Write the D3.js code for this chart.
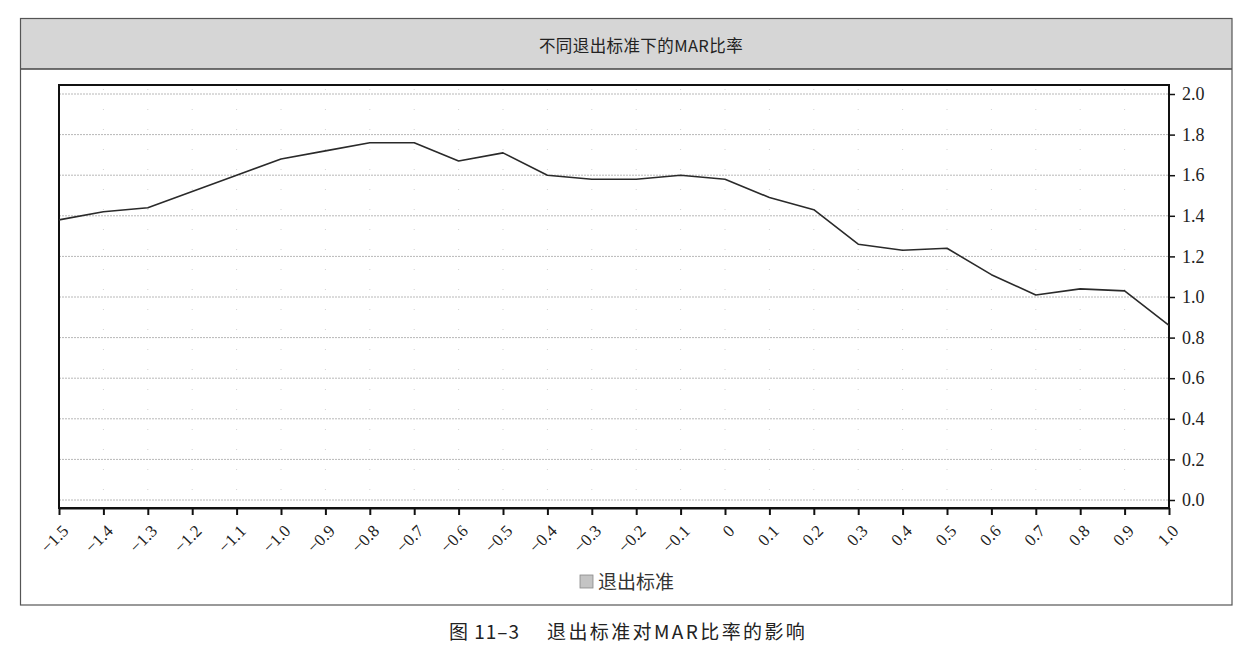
<!DOCTYPE html>
<html>
<head>
<meta charset="utf-8">
<script src="https://cdn.jsdelivr.net/npm/d3@7"></script>
<style>
  html, body { margin: 0; padding: 0; background: #fff; }
  svg { display: block; }
</style>
</head>
<body>
<svg id="chart" width="1253" height="664"></svg>
<script>
// ── Data ─────────────────────────────────────────────────────────────────────

const exitLevels = [-1.5, -1.4, -1.3, -1.2, -1.1, -1.0, -0.9, -0.8, -0.7, -0.6, -0.5, -0.4, -0.3,
  -0.2, -0.1, 0, 0.1, 0.2, 0.3, 0.4, 0.5, 0.6, 0.7, 0.8, 0.9, 1.0];
const marRatio = [1.38, 1.42, 1.44, 1.52, 1.60, 1.68, 1.72, 1.76, 1.76, 1.67, 1.71, 1.60, 1.58,
  1.58, 1.60, 1.58, 1.49, 1.43, 1.26, 1.23, 1.24, 1.11, 1.01, 1.04, 1.03, 0.86];
const yTicks = [0, 0.2, 0.4, 0.6, 0.8, 1.0, 1.2, 1.4, 1.6, 1.8, 2.0];

const titleText = "不同退出标准下的MAR比率";
const legendText = "退出标准";
const captionNumber = "图 11–3";
const captionText = "退出标准对MAR比率的影响";

// ── Layout ───────────────────────────────────────────────────────────────────

const frame = { left: 20.5, top: 18.5, right: 1232, bottom: 605, band: 69 };
const plot = { left: 59, right: 1169, top: 85, bottom: 508 };
const cjkSans = "'Noto Sans CJK SC', 'Noto Sans', sans-serif";
const serif = "'Liberation Serif', 'DejaVu Serif', serif";

const svg = d3.select("#chart");

const x = d3.scaleLinear().domain([-1.5, 1.0]).range([plot.left, plot.right]);
const y = d3.scaleLinear().domain([0, 2.0]).range([500, 94]);

// outer frame + title band
svg.append("rect")
  .attr("x", frame.left).attr("y", frame.top)
  .attr("width", frame.right - frame.left).attr("height", frame.band - frame.top)
  .attr("fill", "#d6d6d6");
svg.append("line")
  .attr("x1", frame.left).attr("x2", frame.right)
  .attr("y1", frame.band).attr("y2", frame.band)
  .attr("stroke", "#444").attr("stroke-width", 1.3);
svg.append("rect")
  .attr("x", frame.left).attr("y", frame.top)
  .attr("width", frame.right - frame.left).attr("height", frame.bottom - frame.top)
  .attr("fill", "none").attr("stroke", "#555").attr("stroke-width", 1.2);

svg.append("text")
  .attr("x", 641).attr("y", 52)
  .attr("text-anchor", "middle")
  .attr("font-family", cjkSans)
  .attr("font-size", 16.5)
  .attr("letter-spacing", 0.4)
  .attr("fill", "#222")
  .text(titleText);

// ── Grid ─────────────────────────────────────────────────────────────────────

svg.append("g")
  .selectAll("line")
  .data(yTicks)
  .join("line")
  .attr("x1", plot.left).attr("x2", plot.right)
  .attr("y1", (d) => y(d)).attr("y2", (d) => y(d))
  .attr("stroke", "#b8b8b8")
  .attr("stroke-width", 1)
  .attr("stroke-dasharray", "2,1");

// faint minor dots along each x position
svg.append("g")
  .selectAll("line")
  .data(exitLevels.slice(1, -1))
  .join("line")
  .attr("x1", (d) => x(d)).attr("x2", (d) => x(d))
  .attr("y1", plot.top + 4).attr("y2", plot.bottom)
  .attr("stroke", "#d4d4d4")
  .attr("stroke-width", 1)
  .attr("stroke-dasharray", "1,19");

// ── Axes ─────────────────────────────────────────────────────────────────────

const xAxis = d3.axisBottom(x)
  .tickValues(exitLevels)
  .tickSize(7)
  .tickSizeOuter(0)
  .tickFormat((d) => d === 0 ? "0" : d3.format(".1f")(d).replace("-", "–"));

const gx = svg.append("g")
  .attr("transform", `translate(0,${plot.bottom})`)
  .call(xAxis);
gx.select(".domain").attr("stroke", "#111").attr("stroke-width", 2);
gx.selectAll(".tick line").attr("stroke", "#111").attr("stroke-width", 2);
gx.selectAll(".tick text")
  .attr("font-family", serif)
  .attr("font-size", 17)
  .attr("fill", "#222")
  .attr("text-anchor", "end")
  .attr("y", 0).attr("dy", 0)
  .attr("transform", "translate(10,24) rotate(-45)");

const yAxis = d3.axisRight(y)
  .tickValues(yTicks)
  .tickSize(6)
  .tickSizeOuter(0)
  .tickFormat(d3.format(".1f"));

const gy = svg.append("g")
  .attr("transform", `translate(${plot.right},0)`)
  .call(yAxis);
gy.select(".domain").remove();
gy.selectAll(".tick line").attr("stroke", "#111").attr("stroke-width", 1.5);
gy.selectAll(".tick text")
  .attr("font-family", serif)
  .attr("font-size", 18)
  .attr("fill", "#222")
  .attr("x", 13);

// plot frame
svg.append("rect")
  .attr("x", plot.left).attr("y", plot.top)
  .attr("width", plot.right - plot.left).attr("height", plot.bottom - plot.top)
  .attr("fill", "none").attr("stroke", "#111").attr("stroke-width", 2);

// ── Series ───────────────────────────────────────────────────────────────────

const line = d3.line()
  .x((d, i) => x(exitLevels[i]))
  .y((d) => y(d));

svg.append("path")
  .datum(marRatio)
  .attr("fill", "none")
  .attr("stroke", "#2a2a2a")
  .attr("stroke-width", 1.6)
  .attr("stroke-linejoin", "round")
  .attr("d", line);

// ── Legend & caption ─────────────────────────────────────────────────────────

svg.append("rect")
  .attr("x", 580).attr("y", 575)
  .attr("width", 13).attr("height", 13)
  .attr("fill", "#c4c4c4").attr("stroke", "#888").attr("stroke-width", 0.8);
svg.append("text")
  .attr("x", 598).attr("y", 589)
  .attr("font-family", cjkSans)
  .attr("font-size", 19)
  .attr("fill", "#333")
  .text(legendText);

svg.append("text")
  .attr("x", 449).attr("y", 639)
  .attr("font-family", cjkSans)
  .attr("font-size", 19)
  .attr("letter-spacing", 1)
  .attr("fill", "#222")
  .text(captionNumber);
svg.append("text")
  .attr("x", 547).attr("y", 639)
  .attr("font-family", cjkSans)
  .attr("font-size", 19)
  .attr("letter-spacing", 2.4)
  .attr("fill", "#222")
  .text(captionText);
</script>
</body>
</html>
